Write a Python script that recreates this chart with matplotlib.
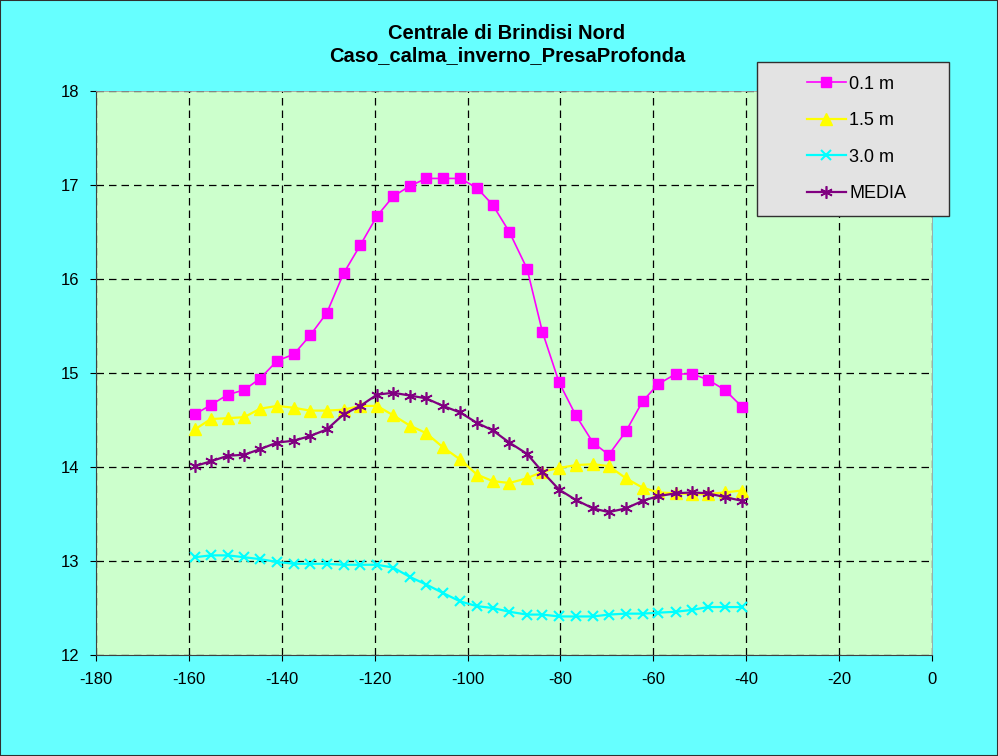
import matplotlib.pyplot as plt
from matplotlib.patches import Rectangle

plt.rcParams['font.family'] = ['Liberation Sans', 'DejaVu Sans']
plt.rcParams['axes.unicode_minus'] = False

# distance values
x = [-158.7, -155.3, -151.6, -148.1, -144.7, -141.0, -137.4, -133.9, -130.3,
     -126.7, -123.1, -119.5, -116.0, -112.4, -108.9, -105.3, -101.6, -98.0,
     -94.6, -91.0, -87.2, -83.9, -80.3, -76.7, -73.0, -69.6, -65.9, -62.3,
     -59.0, -55.2, -51.6, -48.3, -44.6, -40.9]

t_01 = [14.56, 14.66, 14.77, 14.82, 14.94, 15.13, 15.20, 15.40, 15.64, 16.06,
        16.36, 16.67, 16.88, 16.99, 17.07, 17.07, 17.07, 16.97, 16.79, 16.50,
        16.11, 15.44, 14.90, 14.55, 14.26, 14.13, 14.38, 14.70, 14.88, 14.99,
        14.99, 14.93, 14.82, 14.64]

t_15 = [14.40, 14.51, 14.52, 14.53, 14.62, 14.65, 14.63, 14.60, 14.60, 14.61,
        14.65, 14.65, 14.55, 14.44, 14.36, 14.21, 14.08, 13.92, 13.85, 13.83,
        13.88, 13.95, 13.99, 14.02, 14.03, 14.01, 13.88, 13.78, 13.73, 13.72,
        13.71, 13.71, 13.73, 13.75]

t_30 = [13.04, 13.06, 13.06, 13.04, 13.02, 12.99, 12.97, 12.97, 12.97, 12.96,
        12.96, 12.96, 12.93, 12.83, 12.75, 12.66, 12.57, 12.52, 12.50, 12.46,
        12.43, 12.43, 12.41, 12.41, 12.41, 12.43, 12.44, 12.44, 12.45, 12.46,
        12.48, 12.51, 12.51, 12.51]

t_media = [14.01, 14.06, 14.12, 14.13, 14.19, 14.26, 14.28, 14.33, 14.40, 14.56,
           14.65, 14.77, 14.79, 14.76, 14.73, 14.65, 14.58, 14.47, 14.39, 14.26,
           14.14, 13.95, 13.76, 13.65, 13.56, 13.52, 13.56, 13.64, 13.69, 13.72,
           13.73, 13.72, 13.68, 13.64]

labels = ['0.1 m', '1.5 m', '3.0 m', 'MEDIA']

fig = plt.figure(figsize=(9.98, 7.56), dpi=100, facecolor='#66FFFF')
ax = fig.add_axes([0.0962, 0.1336, 0.8377, 0.7460])
ax.set_facecolor('#CCFFCC')

ax.plot(x, t_01, color='#FF00FF', lw=1.2, marker='s', ms=7, label=labels[0])
ax.plot(x, t_15, color='#FFFF00', lw=1.6, marker='^', ms=8, label=labels[1])
ax.plot(x, t_30, color='#00FFFF', lw=1.6, marker='x', ms=7, mew=1.5, label=labels[2])
ax.plot(x, t_media, color='#800080', lw=1.6, marker=(6, 2, 0), ms=9, mew=1.2,
        label=labels[3])

ax.set_xlim(-180, 0)
ax.set_ylim(12, 18)
ax.set_xticks(range(-180, 1, 20))
ax.set_yticks(range(12, 19))
ax.grid(True, color='black', linestyle=(0, (6, 4)), lw=0.9)
ax.tick_params(direction='out', length=4, labelsize=12, colors='black')
ax.tick_params(axis='x', pad=8)
ax.tick_params(axis='y', pad=8)
for s in ['left', 'bottom']:
    ax.spines[s].set_color('#404040')
for s in ['top', 'right']:
    ax.spines[s].set_color('#a0a0a0')
    ax.spines[s].set_linewidth(0.6)

fig.text(0.508, 0.968, 'Centrale di Brindisi Nord\nCaso_calma_inverno_PresaProfonda',
         ha='center', va='top', fontsize=14.5, fontweight='bold', linespacing=1.2)

# legend box
fig.patches.append(Rectangle((0.7585, 0.7143), 0.1924, 0.2037, transform=fig.transFigure,
                             facecolor='#E3E3E3', edgecolor='#303030', lw=1, zorder=5))
fig.legend(loc='upper left', bbox_to_anchor=(0.795, 0.918), frameon=False,
           fontsize=13, handlelength=2.15, handletextpad=0.2, labelspacing=1.08,
           borderaxespad=0.35)

fig.patches.append(Rectangle((0, 0), 1, 1, transform=fig.transFigure, fill=False,
                             edgecolor='#303030', lw=1.5))

fig.savefig('out.png', dpi=100, facecolor=fig.get_facecolor())
